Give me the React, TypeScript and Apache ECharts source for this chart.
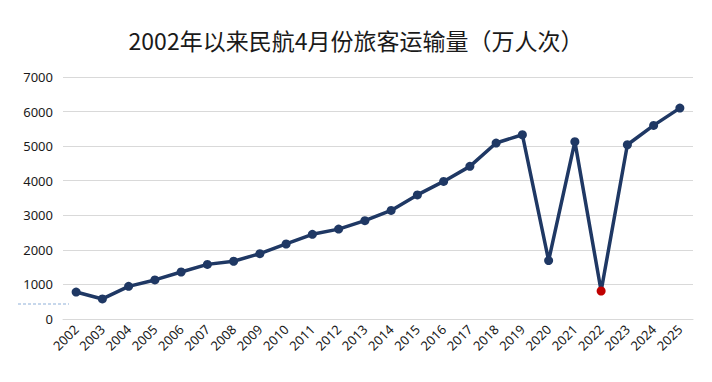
import React, { useEffect, useRef } from "react";
import * as echarts from "echarts";

const years = ["2002","2003","2004","2005","2006","2007","2008","2009","2010","2011","2012","2013","2014","2015","2016","2017","2018","2019","2020","2021","2022","2023","2024","2025"];
const passengers = [780, 580, 945, 1130, 1360, 1580, 1670, 1890, 2170, 2450, 2600, 2845, 3140, 3590, 3980, 4415, 5090, 5330, 1690, 5130, 810, 5040, 5600, 6100];
const highlightYear = "2022";
const titleText = "2002年以来民航4月份旅客运输量（万人次）";

export default function App() {
  const ref = useRef<HTMLDivElement>(null);
  useEffect(() => {
    document.body.style.margin = "0";
    const chart = echarts.init(ref.current!, null, { renderer: "svg" });
    const data = passengers.map((v, i) =>
      years[i] === highlightYear
        ? { value: v, itemStyle: { color: "#c00000" } }
        : v
    );
    chart.setOption({
      animation: false,
      backgroundColor: "#ffffff",
      title: {
        text: titleText,
        left: "center",
        top: 23,
        textStyle: {
          fontFamily: "Noto Sans CJK SC",
          fontSize: 23,
          fontWeight: "normal",
          color: "#1a1a1a",
        },
      },
      grid: { left: 63, right: 19, top: 77, bottom: 63, containLabel: false },
      xAxis: {
        type: "category",
        data: years,
        boundaryGap: true,
        axisLine: { show: true, lineStyle: { color: "#d9d9d9", width: 1 } },
        axisTick: { show: false },
        axisLabel: {
          rotate: 45,
          fontSize: 13,
          color: "#1a1a1a",
          fontFamily: "Noto Sans",
          margin: 8,
          interval: 0,
        },
      },
      yAxis: {
        type: "value",
        min: 0,
        max: 7000,
        interval: 1000,
        axisLine: { show: false },
        axisTick: { show: false },
        splitLine: { lineStyle: { color: "#d9d9d9", width: 1 } },
        axisLabel: {
          fontSize: 13,
          color: "#1a1a1a",
          fontFamily: "Noto Sans",
          margin: 10,
          formatter: (v: number) => String(v),
        },
      },
      graphic: [
        {
          type: "line",
          shape: { x1: 18, y1: 304, x2: 69, y2: 304 },
          style: { stroke: "#8fb0d8", lineWidth: 1, lineDash: [3, 2] },
        },
      ],
      series: [
        {
          type: "line",
          data,
          symbol: "circle",
          symbolSize: 9,
          lineStyle: { color: "#1f3864", width: 3.5 },
          itemStyle: { color: "#1f3864" },
        },
      ],
    });
    return () => chart.dispose();
  }, []);
  return <div ref={ref} style={{ width: 712, height: 382 }} />;
}
